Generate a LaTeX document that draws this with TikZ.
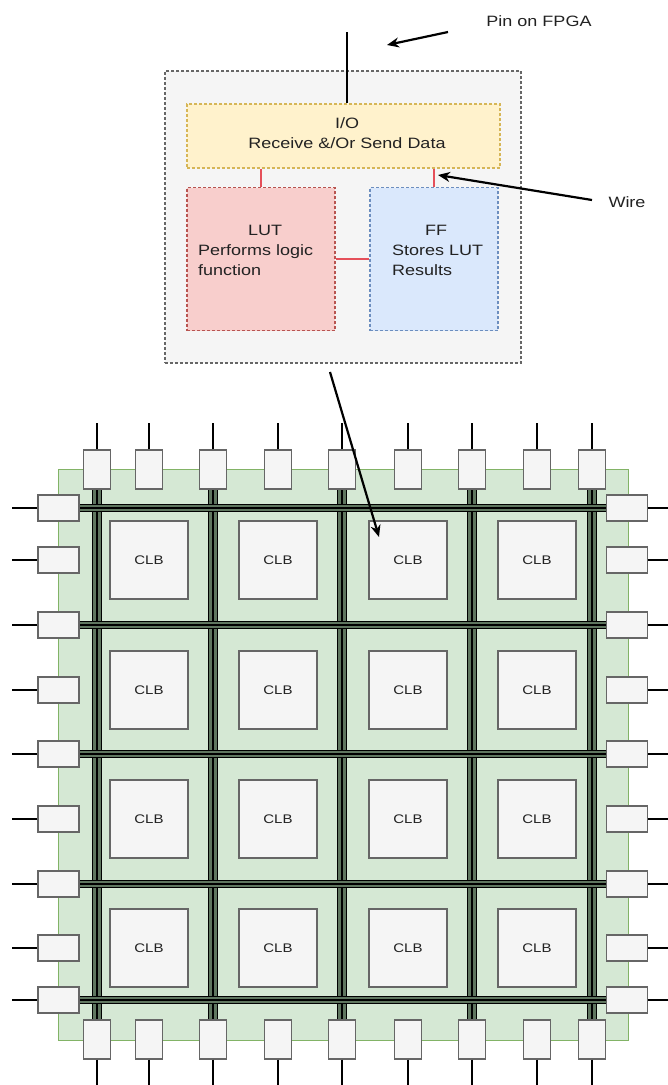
\documentclass[tikz,border=0pt]{standalone}
\usepackage{fontspec}
\setmainfont{Liberation Sans}[FakeStretch=1.2]
\usetikzlibrary{arrows.meta,calc}
\definecolor{outerfill}{HTML}{F5F5F5}
\definecolor{grayline}{HTML}{666666}
\definecolor{yelfill}{HTML}{FFF2CC}
\definecolor{yelline}{HTML}{D6B656}
\definecolor{redfill}{HTML}{F8CECC}
\definecolor{redline}{HTML}{B85450}
\definecolor{bluefill}{HTML}{DAE8FC}
\definecolor{blueline}{HTML}{6C8EBF}
\definecolor{grnfill}{HTML}{D5E8D4}
\definecolor{grnline}{HTML}{82B366}
\definecolor{wirered}{HTML}{E5505A}
\definecolor{chgreen}{RGB}{95,118,95}
\definecolor{txt}{HTML}{222222}
\tikzset{
  lab/.style={font=\fontsize{15}{20}\selectfont, text=txt, inner sep=0pt},
  dbox/.style={draw, dash pattern=on 3pt off 2pt, line width=1.2pt, inner sep=0pt},
  pinbox/.style={draw=grayline, fill=outerfill, line width=1.2pt, inner sep=0pt},
  tpin/.style={pinbox, minimum width=27pt, minimum height=39pt},
  lpin/.style={pinbox, minimum width=41pt, minimum height=26pt},
  clbbox/.style={draw=grayline, fill=outerfill, line width=1.4pt, minimum width=78pt, minimum height=78pt, inner sep=0pt, font=\fontsize{12.5}{15}\selectfont, text=txt},
  pinline/.style={draw=black, line width=1.5pt},
  wire/.style={draw=wirered, line width=2.2pt},
  arr/.style={draw=black, line width=2.2pt, -{Stealth[length=12pt,width=10pt]}},
  vchan/.style={draw=black, line width=1.1pt, preaction={draw=black, line width=1.1pt, double=chgreen, double distance=8.5pt}},
  hchan/.style={draw=black, line width=1.1pt, preaction={draw=black, line width=1.1pt, double=chgreen, double distance=5.5pt}}
}
\begin{document}
\begin{tikzpicture}[x=1pt, y=-1pt]
\useasboundingbox (0,0) rectangle (668,1085);
% ---------- top CLB detail ----------
\node[dbox, draw=grayline, fill=outerfill, minimum width=356pt, minimum height=292pt] (outer) at (343,217) {};
\node[dbox, draw=yelline, fill=yelfill, minimum width=313pt, minimum height=64pt] (io) at (343.5,136) {};
\node[lab, align=center] (iotext) at (347,133) {I/O\\Receive \&/Or Send Data};
\node[dbox, draw=redline, fill=redfill, minimum width=148pt, minimum height=143pt] (lut) at (261,259) {};
\node[dbox, draw=blueline, fill=bluefill, minimum width=128pt, minimum height=143pt] (ff) at (434,259) {};
\node[lab, align=left, anchor=west] (luttext) at (198,250) {\hspace*{50pt}LUT\\Performs logic\\function};
\node[lab, align=left, anchor=west] (fftext) at (392,250) {\hspace*{33pt}FF\\Stores LUT\\Results};
\draw[wire] (io.south -| lut.north) -- (lut.north);
\draw[wire] (io.south -| ff.north) -- (ff.north);
\draw[wire] (lut.east) -- (ff.west);
\coordinate (pintop) at (347,32);
\draw[pinline] (pintop) -- (pintop |- io.north);
\node[lab] (pinlabel) at (539,21) {Pin on FPGA};
\node[lab] (wirelabel) at (627,202) {Wire};
\coordinate (pa1) at (448,32);
\coordinate (pa2) at (387,45);
\draw[arr] (pa1) -- (pa2);
\coordinate (wa1) at (592,200);
\coordinate (wa2) at (438,175);
\draw[arr] (wa1) -- (wa2);
% ---------- FPGA grid ----------
\node[draw=grnline, fill=grnfill, line width=1pt, minimum width=570pt, minimum height=571pt, inner sep=0pt] (chip) at (343,754.5) {};
\foreach \x [count=\i] in {97,149,213,278,342,408,472,537,592} {
  \coordinate (tpos\i) at (\x,469.5);
  \coordinate (bpos\i) at (\x,1039.5);
}
\foreach \y [count=\i] in {508,560,625,690,754,819,884,948,1000} {
  \coordinate (lpos\i) at (58.5,\y);
  \coordinate (rpos\i) at (627,\y);
}
% channels
\foreach \i in {1,3,5,7,9} {
  \draw[vchan] ($(tpos\i)+(0,19.5)$) -- ($(bpos\i)+(0,-19.5)$);
}
\foreach \i in {1,3,5,7,9} {
  \draw[hchan] ($(lpos\i)+(20.5,0)$) -- ($(rpos\i)+(-20,0)$);
}
% CLBs
\foreach \x [count=\c] in {149,278,408,537} {
  \foreach \y [count=\r] in {560,690,819,948} {
    \node[clbbox] (clb\r\c) at (\x,\y) {CLB};
  }
}
% pin boxes and lines
\foreach \i in {1,...,9} {
  \node[tpin] (t\i) at (tpos\i) {};
  \coordinate (te\i) at ($(t\i.north)+(0,-26)$);
  \draw[pinline] (t\i.north) -- (te\i);
  \node[tpin] (b\i) at (bpos\i) {};
  \coordinate (be\i) at ($(b\i.south)+(0,26)$);
  \draw[pinline] (b\i.south) -- (be\i);
  \node[lpin] (l\i) at (lpos\i) {};
  \coordinate (le\i) at ($(l\i.west)+(-25,0)$);
  \draw[pinline] (l\i.west) -- (le\i);
  \node[lpin] (r\i) at (rpos\i) {};
  \coordinate (re\i) at ($(r\i.east)+(21,0)$);
  \draw[pinline] (r\i.east) -- (re\i);
}
% arrow from detail to CLB
\coordinate (ma1) at (330,372);
\coordinate (ma2) at (379,537);
\draw[arr] (ma1) -- (ma2);
\end{tikzpicture}
\end{document}
